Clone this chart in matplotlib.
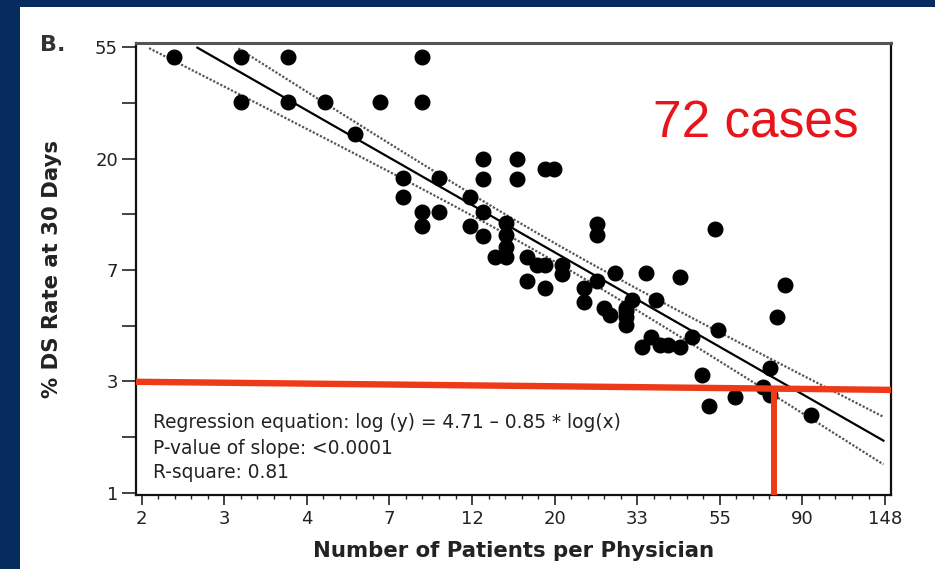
import numpy as np
import matplotlib
matplotlib.use("Agg")
import matplotlib.pyplot as plt
from matplotlib.patches import Rectangle

# ---------------- data ----------------
patients = [2, 3, 4, 9, 3, 4, 5, 7, 9, 6,
            8, 10, 8, 9, 10, 9, 13, 16, 13, 16,
            19, 20, 12, 13, 12, 13, 15, 15, 15, 14,
            15, 17, 18, 19, 21, 21, 17, 19, 26, 26,
            29, 35, 43, 26, 24, 24, 27, 28, 32, 31,
            31, 31, 37, 53, 81, 77, 54, 46, 34, 36,
            38, 40, 43, 49, 51, 60, 74, 71, 74, 95, 31]
ds_rate = [50.0, 50.0, 50.0, 50.0, 33.3, 33.3, 33.3, 33.3, 33.3, 25.0,
           16.9, 16.9, 14.3, 12.5, 12.5, 11.0, 20.0, 20.0, 16.7, 16.7,
           18.3, 18.3, 14.3, 12.5, 11.0, 10.0, 11.25, 10.1, 9.12, 8.33,
           8.33, 8.33, 7.74, 7.74, 7.74, 7.13, 6.73, 6.32, 11.2, 10.1,
           7.18, 7.17, 6.93, 6.73, 6.29, 5.56, 5.24, 4.94, 5.65, 4.87,
           4.51, 5.12, 5.65, 10.7, 6.49, 4.87, 4.33, 4.04, 3.71, 4.04,
           3.77, 3.77, 3.71, 2.89, 2.19, 2.36, 3.08, 2.59, 2.41, 2.01, 5.24]

# regression summary printed on the chart
intercept = 4.71
slope = -0.85
r_square = 0.81
n_cases = 72
t_crit = 1.994

x_tick_labels = ["2", "3", "4", "7", "12", "20", "33", "55", "90", "148"]
y_tick_labels = ["1", "3", "7", "20", "55"]

red_h_y = [2.71, 2.52]     # horizontal red guide (left, right)
red_v_x = 76               # vertical red guide
red_v_top = 2.55

eq_lines = ["Regression equation: log (y) = 4.71 \u2013 0.85 * log(x)",
            "P-value of slope: <0.0001",
            "R-square: 0.81"]

# ---------------- figure ----------------
W, H = 935, 569
fig = plt.figure(figsize=(W / 100, H / 100), dpi=100)
fig.patch.set_facecolor("#062c5f")
fig.patches.append(Rectangle((20 / W, 0), 1 - 20 / W, 1 - 7 / H,
                             transform=fig.transFigure, facecolor="white",
                             edgecolor="none", zorder=-5))

ax = fig.add_axes([136 / W, 1 - 495 / H, (891 - 136) / W, (495 - 43) / H])
ax.set_zorder(2)
ax.set_xscale("log")
ax.set_yscale("log")
ax.set_xlim(np.exp(0.466), np.exp(5.036))
ax.set_ylim(np.exp(-0.02), np.exp(4.04))

x = np.array(patients, float)
y = np.array(ds_rate, float)
lx = np.log(x)
xbar = lx.mean()
sxx = np.sum((lx - xbar) ** 2)
# slope standard error implied by R-square and n; residual sd from it
se_slope = abs(slope) * np.sqrt((1 - r_square) / (r_square * (n_cases - 2)))
s_res = se_slope * np.sqrt(sxx)

g = np.linspace(0.5, 4.99, 400)
fit = intercept + slope * g
h = t_crit * np.sqrt(s_res ** 2 / n_cases + se_slope ** 2 * (g - xbar) ** 2)


def clip(v):
    v = v.copy()
    v[v > 4.0] = np.nan
    return np.exp(v)


ax.plot(np.exp(g), clip(fit), color="black", lw=1.6, zorder=3)
ax.plot(np.exp(g), clip(fit + h), color="#555555", lw=1.6,
        linestyle=(0, (1, 0.8)), zorder=3)
ax.plot(np.exp(g), clip(fit - h), color="#555555", lw=1.6,
        linestyle=(0, (1, 0.8)), zorder=3)

ax.plot(x, y, "o", color="black", markersize=10.5, zorder=4)

# red guides
xl = ax.get_xlim()
ax.plot(xl, red_h_y, color="#ee3a18", lw=4.6, zorder=6, solid_capstyle="butt")
ax.plot([red_v_x, red_v_x], [ax.get_ylim()[0], red_v_top], color="#ee3a18",
        lw=4.3, zorder=6, solid_capstyle="butt")

# ticks
xt = np.exp(np.arange(0.5, 5.01, 0.5))
ax.set_xticks(xt)
ax.set_xticklabels(x_tick_labels)
ax.set_xticks(np.exp(np.arange(0.5, 5.01, 0.1)), minor=True)
yt = np.exp(np.arange(0, 4.01, 1.0))
ax.set_yticks(yt)
ax.set_yticklabels(y_tick_labels)
ax.set_yticks(np.exp(np.arange(0.5, 3.6, 1.0)), minor=True)
ax.yaxis.set_minor_formatter(matplotlib.ticker.NullFormatter())
ax.xaxis.set_minor_formatter(matplotlib.ticker.NullFormatter())

ax.tick_params(axis="x", which="major", length=7, width=1.2, labelsize=13,
               pad=4, color="#222222", labelcolor="#222222")
ax.tick_params(axis="x", which="minor", length=3, width=1.0, color="#222222")
ax.tick_params(axis="y", which="both", length=10, width=1.2, labelsize=13,
               pad=3, color="#222222", labelcolor="#222222")

for side in ["left", "bottom", "right"]:
    ax.spines[side].set_color("#111111")
    ax.spines[side].set_linewidth(1.6)
ax.spines["top"].set_color("#555555")
ax.spines["top"].set_linewidth(2.2)

ax.set_xlabel("Number of Patients per Physician", fontsize=15.3,
              fontweight="bold", color="#222222", labelpad=9)
ax.set_ylabel("% DS Rate at 30 Days", fontsize=15.3, fontweight="bold",
              color="#222222", labelpad=24)

for i, line in enumerate(eq_lines):
    ax.text(153 / W, 1 - (423 + 25 * i) / H, line, transform=fig.transFigure,
            fontsize=13.4, color="#222222", ha="left", va="center",
            zorder=7)

fig.text(40 / W, 1 - 45 / H, "B.", fontsize=16, fontweight="bold",
         color="#333333", ha="left", va="center")
fig.text(653 / W, 1 - 137 / H, "72 cases", fontsize=37, color="#e8141c",
         family="Liberation Sans", ha="left", va="baseline")

fig.savefig("out.png", dpi=100, facecolor=fig.get_facecolor())
